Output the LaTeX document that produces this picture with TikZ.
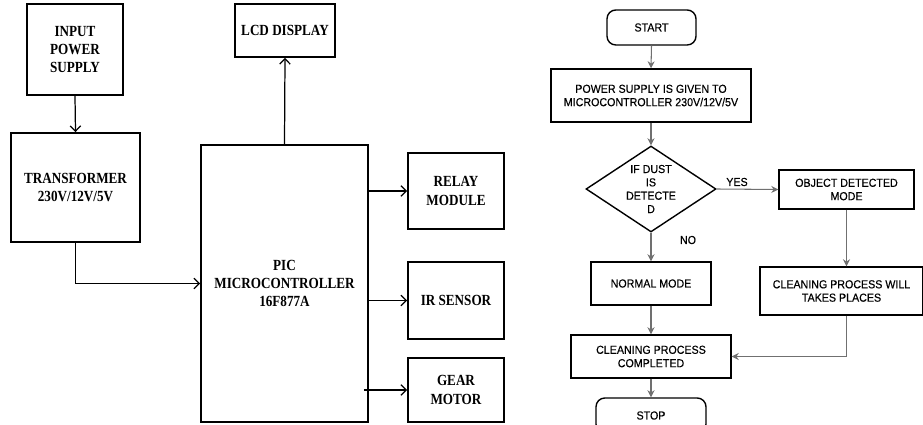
\documentclass[tikz,border=0pt]{standalone}
\usepackage{fontspec}
\setmainfont{Liberation Serif}
\newfontfamily\blockfont[FakeStretch=0.85]{Liberation Serif}
\newfontfamily\flowfont[FakeStretch=0.92, FakeBold=0.4]{Liberation Sans}
\usepackage{xcolor}
\usepackage{tikz}
\usetikzlibrary{arrows.meta}
\usetikzlibrary{shapes, positioning}

\definecolor{flowgray}{HTML}{707070}

\tikzset{
    block/.style={draw, line width=1.1pt, align=center, inner sep=1pt,
        font=\blockfont\bfseries\fontsize{8.8}{10.4}\selectfont},
    flowbox/.style={draw, line width=0.8pt, align=center, inner sep=1pt,
        font=\flowfont\fontsize{6.6}{7.6}\selectfont},
    term/.style={flowbox, rounded corners=5pt},
    link/.style={-{Straight Barb[length=3pt,width=6pt]}, line width=0.7pt},
    flow/.style={-{Stealth[length=4pt,width=4pt]}, line width=0.6pt, draw=flowgray},
    tag/.style={font=\flowfont\fontsize{6.6}{7.6}\selectfont, inner sep=0pt}
}

\begin{document}
\begin{tikzpicture}[x=0.02cm, y=-0.02cm]
    \useasboundingbox (0,0) rectangle (923,425);

    % block diagram
    \node[block, minimum width=1.92cm, minimum height=1.82cm] (inps) at (75,49.5) {INPUT\\POWER\\SUPPLY};
    \node[block, minimum width=2.58cm, minimum height=2.18cm] (trans) at (75.5,187.5) {TRANSFORMER\\230V/12V/5V};
    \node[block, minimum width=2.0cm, minimum height=1.06cm] (lcd) at (285,30.5) {LCD DISPLAY};
    \node[block, minimum width=3.34cm, minimum height=5.54cm] (pic) at (284.5,283.5) {PIC\\MICROCONTROLLER\\16F877A};
    \node[block, minimum width=1.92cm, minimum height=1.52cm] (relay) at (456,191) {RELAY\\MODULE};
    \node[block, minimum width=1.92cm, minimum height=1.54cm] (irs) at (456,300.5) {IR SENSOR};
    \node[block, minimum width=1.92cm, minimum height=1.28cm] (gear) at (456,390) {GEAR\\MOTOR};

    \draw[link] (inps.south) -- (trans.north);
    \draw[link] (pic.north) -- (lcd.south);
    \draw[link] (trans.south) |- (pic.west);
    \draw[link] (pic.east |- relay.west) -- (relay.west);
    \draw[link] (pic.east |- irs.west) -- (irs.west);
    \draw[link] ([xshift=-0.1cm]pic.east |- gear.west) -- (gear.west);

    % flowchart
    \node[term, minimum width=1.78cm, minimum height=0.70cm] (start) at (651.5,27.5) {START};
    \node[flowbox, minimum width=4.0cm, minimum height=1.06cm] (power) at (651,95.5) {POWER SUPPLY IS GIVEN TO\\MICROCONTROLLER 230V/12V/5V};
    \node[flowbox, diamond, inner sep=0pt, aspect=1.5, minimum width=2.6cm, minimum height=1.72cm] (dust) at (651,189) {IF DUST\\IS\\DETECTE\\D};
    \node[flowbox, minimum width=2.7cm, minimum height=0.78cm] (obj) at (846.5,189.5) {OBJECT DETECTED\\MODE};
    \node[flowbox, minimum width=3.26cm, minimum height=0.96cm] (clean) at (841.5,291) {CLEANING PROCESS WILL\\TAKES PLACES};
    \node[flowbox, minimum width=2.4cm, minimum height=0.86cm] (normal) at (651,283.5) {NORMAL MODE};
    \node[flowbox, minimum width=3.2cm, minimum height=0.86cm] (done) at (651,356.5) {CLEANING PROCESS\\COMPLETED};
    \node[term, minimum width=2.2cm, minimum height=0.70cm] (stop) at (651,415.5) {STOP};
    \node[tag] (yes) at (737,182) {YES};
    \node[tag] (no) at (688,240) {NO};

    \draw[flow] (start.south) -- (power.north);
    \draw[flow] (power.south) -- (dust.north);
    \draw[flow] (dust.east) -- (obj.west);
    \draw[flow] (obj.south) -- (obj.south |- clean.north);
    \draw[flow] (dust.south) -- (normal.north);
    \draw[flow] (normal.south) -- (done.north);
    \draw[flow] (obj.south |- clean.south) |- (done.east);
    \draw[flow] (done.south) -- (stop.north);
\end{tikzpicture}
\end{document}
